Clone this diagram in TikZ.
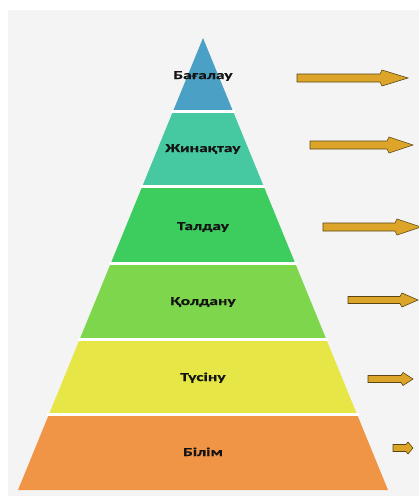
\documentclass[tikz,border=0pt]{standalone}
\usepackage{fontspec}
\usepackage{tikz}
\newfontfamily\layerfont{Carlito}[FakeStretch=1.45, BoldFeatures={FakeBold=0.6}]
\definecolor{pagegray}{HTML}{F4F4F4}
\definecolor{lvlA}{HTML}{4BA0C6}
\definecolor{lvlB}{HTML}{46C8A0}
\definecolor{lvlC}{HTML}{3DCD5F}
\definecolor{lvlD}{HTML}{7DD64B}
\definecolor{lvlE}{HTML}{E6E646}
\definecolor{lvlF}{HTML}{F09446}
\definecolor{arrowgold}{HTML}{DCA52A}
\definecolor{arrowedge}{HTML}{5A4614}
\def\pyrslope{0.4093}

\begin{document}
\begin{tikzpicture}[
  x=1pt, y=-1pt,
  gapline/.style={white, line width=3pt},
  lbl/.style={font=\layerfont\bfseries\fontsize{12}{14}\selectfont, text=black!92, text height=8pt, text depth=2pt},
  goldarrow/.style={fill=arrowgold, draw=arrowedge, line width=0.6pt, line join=miter}
]
  % page
  \fill[white] (0,0) rectangle (419,496);
  \fill[pagegray] (8,10) rectangle (419,496);
  \useasboundingbox (0,0) rectangle (419,496);

  % pyramid layers (top/bottom/colour)
  \foreach \t/\b/\c in {38/111.5/lvlA, 111.5/186.5/lvlB, 186.5/263.5/lvlC,
                        263.5/339.5/lvlD, 339.5/414.5/lvlE, 414.5/490/lvlF}
    \fill[\c] ({203-\pyrslope*(\t-38)},\t) -- ({203+\pyrslope*(\t-38)},\t)
      -- ({203+\pyrslope*(\b-38)},\b) -- ({203-\pyrslope*(\b-38)},\b) -- cycle;
  \foreach \g in {111.5, 186.5, 263.5, 339.5, 414.5}
    \draw[gapline] ({203-\pyrslope*(\g-38)-2},\g) -- ({203+\pyrslope*(\g-38)+2},\g);

  % labels
  \node[lbl] (bagalau)   at (203,76)  {Бағалау};
  \node[lbl] (zhinaqtau) at (203,149) {Жинақтау};
  \node[lbl] (taldau)    at (203,227) {Талдау};
  \node[lbl] (qoldanu)   at (203,302) {Қолдану};
  \node[lbl] (tusinu)    at (203,378) {Түсіну};
  \node[lbl] (bilim)     at (203,453) {Білім};

  % arrows (tail x/tip x/y/head length/half head/half shaft)
  \foreach \xa/\xb/\y/\h/\w/\s in {297/408/78/28/8/4, 310/413/145/26/8/4,
      323/421/227/26/8/4, 348/418/300/18/7/3.5, 368/413/379/12/6.5/3.5,
      393/413/448/7/6/3.5}
    \filldraw[goldarrow] (\xa,{\y-\s}) -- ({\xb-\h},{\y-\s}) -- ({\xb-\h+2},{\y-\w})
      -- (\xb,\y) -- ({\xb-\h+2},{\y+\w}) -- ({\xb-\h},{\y+\s}) -- (\xa,{\y+\s}) -- cycle;
\end{tikzpicture}
\end{document}
